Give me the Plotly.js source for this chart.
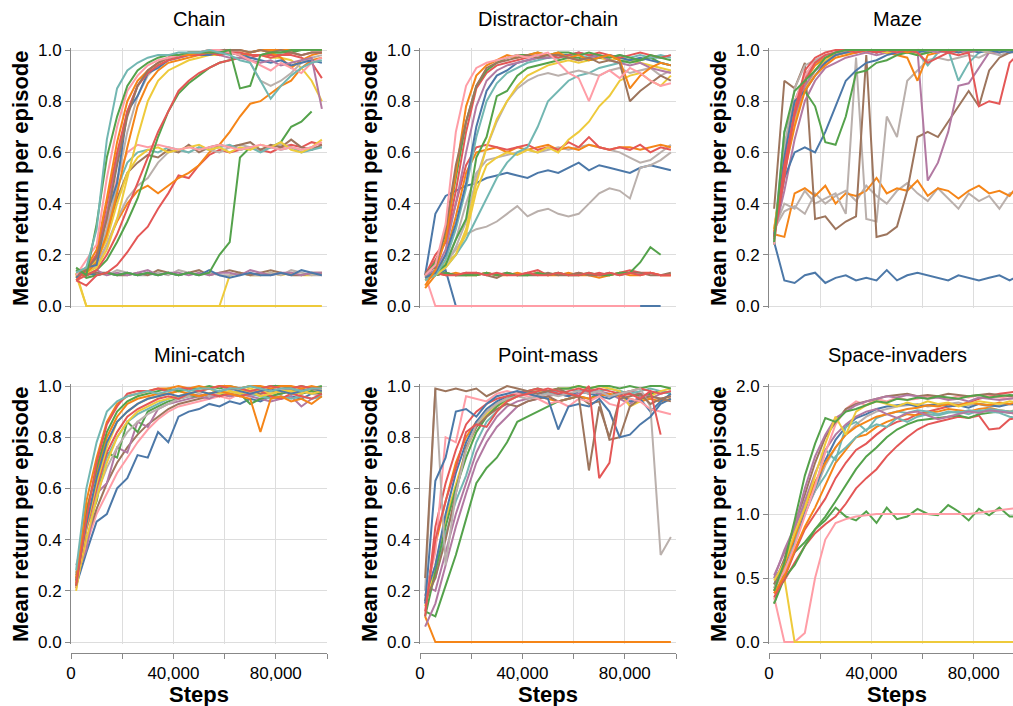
<!DOCTYPE html>
<html><head><meta charset="utf-8">
<script src="https://cdn.plot.ly/plotly-3.0.1.min.js"></script>
<style>html,body{margin:0;padding:0;overflow:hidden;background:#fff}#chart{width:1040px;height:706px}</style>
</head><body><div id="chart"></div>
<script>
// ---------------- data ----------------
const steps = [2000, 6000, 10000, 14000, 18000, 22000, 26000, 30000, 34000, 38000, 42000, 46000, 50000, 54000, 58000, 62000, 66000, 70000, 74000, 78000, 82000, 86000, 90000, 94000, 98000];
const panelTitles = ['Chain', 'Distractor-chain', 'Maze', 'Mini-catch', 'Point-mass', 'Space-invaders'];
const yTitle = 'Mean return per episode';
const xTitle = 'Steps';
const xTickValues = [0, 20000, 40000, 60000, 80000, 100000];
const xTickLabels = ['0', '', '40,000', '', '80,000', ''];
const unitTickValues = [0, 0.2, 0.4, 0.6, 0.8, 1.0];
const unitTickLabels = ['0.0', '0.2', '0.4', '0.6', '0.8', '1.0'];
const invadersTickValues = [0, 0.5, 1.0, 1.5, 2.0];
const invadersTickLabels = ['0.0', '0.5', '1.0', '1.5', '2.0'];

const chainRuns = [
  [0.12,0,0,0,0, 0,0,0,0,0, 0,0,0,0,0, 0,0,0,0,0, 0,0,0,0,0],
  [0.13,0,0,0,0, 0,0,0,0,0, 0,0,0,0,0, 0.12,0.13,0.12,0.12,0.13, 0.12,0.13,0.12,0.12,0.13],
  [0.12,0.13,0.13,0.12,0.14, 0.13,0.12,0.12,0.13,0.12, 0.14,0.13,0.12,0.13,0.12, 0.12,0.13,0.12,0.12,0.13, 0.12,0.14,0.13,0.12,0.12],
  [0.14,0.12,0.13,0.13,0.12, 0.12,0.13,0.12,0.14,0.13, 0.12,0.13,0.14,0.12,0.13, 0.14,0.13,0.12,0.13,0.14, 0.13,0.12,0.12,0.13,0.13],
  [0.13,0.12,0.14,0.12,0.13, 0.12,0.13,0.14,0.12,0.13, 0.13,0.12,0.13,0.12,0.13, 0.13,0.12,0.14,0.13,0.12, 0.13,0.13,0.12,0.13,0.13],
  [0.12,0.13,0.12,0.13,0.12, 0.13,0.12,0.13,0.12,0.13, 0.12,0.13,0.12,0.14,0.12, 0.11,0.12,0.13,0.12,0.12, 0.13,0.12,0.14,0.13,0.12],
  [0.14,0.11,0.12,0.13,0.12, 0.13,0.12,0.13,0.12,0.13, 0.12,0.13,0.12,0.13,0.20, 0.25,0.58,0.62,0.61,0.62, 0.64,0.70,0.72,0.76,null],
  [0.10,0.08,0.12,0.13,0.16, 0.21,0.27,0.31,0.38,0.44, 0.51,0.50,0.55,0.59,0.61, 0.60,0.61,0.62,0.61,0.60, 0.62,0.63,0.62,0.64,0.63],
  [0.12,0.13,0.16,0.24,0.33, 0.40,0.45,0.47,0.44,0.47, 0.50,0.52,0.55,0.60,0.63, 0.68,0.74,0.79,0.80,0.83, 0.86,0.88,0.93,0.96,0.97],
  [0.13,0.13,0.16,0.24,0.34, 0.42,0.47,0.50,0.56,0.60, 0.61,0.60,0.62,0.61,0.60, 0.62,0.63,0.62,0.61,0.62, 0.63,0.62,0.61,0.62,0.62],
  [0.12,0.13,0.17,0.28,0.42, 0.52,0.56,0.59,0.58,0.61, 0.60,0.63,0.60,0.62,0.63, 0.62,0.63,0.64,0.61,0.63, 0.62,0.65,0.62,0.61,0.63],
  [0.12,0.14,0.19,0.30,0.46, 0.56,0.60,0.61,0.60,0.62, 0.61,0.60,0.62,0.61,0.62, 0.63,0.61,0.62,0.60,0.62, 0.61,0.62,0.60,0.61,0.62],
  [0.12,0.14,0.18,0.26,0.40, 0.52,0.58,0.61,0.62,0.60, 0.61,0.62,0.63,0.61,0.62, 0.60,0.62,0.61,0.63,0.62, 0.64,0.61,0.60,0.62,0.65],
  [0.12,0.15,0.20,0.33,0.50, 0.60,0.63,0.62,0.63,0.62, 0.61,0.62,0.61,0.62,0.63, 0.62,0.61,0.62,0.63,0.62, 0.61,0.62,0.61,0.62,0.64],
  [0.13,0.12,0.14,0.18,0.25, 0.33,0.42,0.54,0.66,0.76, 0.83,0.87,0.90,0.93,0.95, 0.96,0.97,0.98,0.98,0.99, 0.99,0.99,1.0,1.0,1.0],
  [0.10,0.12,0.14,0.20,0.28, 0.38,0.48,0.58,0.68,0.76, 0.84,0.88,0.91,0.93,0.95, 0.96,0.97,0.97,0.98,0.98, 0.98,0.98,0.97,0.95,0.89],
  [0.12,0.13,0.15,0.22,0.34, 0.50,0.66,0.80,0.88,0.92, 0.94,0.96,0.97,0.98,0.98, 0.99,0.99,0.98,0.98,0.97, 0.97,0.96,0.93,0.88,0.80],
  [0.13,0.15,0.19,0.30,0.48, 0.68,0.82,0.90,0.94,0.96, 0.98,0.99,0.99,0.99,1.0, 1.0,0.99,0.95,0.88,0.86, 0.88,0.91,0.95,0.97,0.98],
  [0.11,0.13,0.17,0.28,0.44, 0.62,0.78,0.87,0.92,0.95, 0.96,0.97,0.98,0.98,0.99, 0.99,0.98,0.99,1.0,0.99, 0.97,0.93,0.96,0.98,0.99],
  [0.11,0.15,0.16,0.36,0.48, 0.76,0.82,0.91,0.93,0.96, 0.97,0.98,0.98,0.98,0.99, 0.99,0.98,0.97,0.96,0.95, 0.96,0.94,0.95,0.96,0.95],
  [0.12,0.14,0.20,0.36,0.58, 0.76,0.86,0.92,0.95,0.97, 0.98,0.98,0.99,0.99,0.98, 0.97,0.97,0.96,0.95,0.96, 0.94,0.95,0.96,0.97,0.77],
  [0.10,0.14,0.20,0.40,0.60, 0.76,0.86,0.91,0.94,0.96, 0.97,0.98,0.98,0.99,0.98, 0.99,0.99,0.98,0.98,0.97, 0.98,0.99,0.98,0.99,0.99],
  [0.12,0.15,0.22,0.42,0.64, 0.80,0.88,0.92,0.95,0.97, 0.98,0.98,0.99,0.99,1.0, 1.0,1.0,0.99,1.0,1.0, 1.0,1.0,1.0,1.0,1.0],
  [0.12,0.14,0.19,0.34,0.55, 0.74,0.86,0.92,0.95,0.97, 0.98,0.99,0.99,1.0,1.0, 1.0,1.0,0.99,1.0,0.99, 1.0,0.99,0.98,0.99,0.99],
  [0.12,0.18,0.24,0.50,0.70, 0.84,0.90,0.94,0.96,0.97, 0.98,0.99,0.99,1.0,1.0, 0.99,0.98,0.96,0.94,0.92, 0.95,0.93,0.91,0.95,0.97],
  [0.15,0.12,0.32,0.58,0.74, 0.86,0.92,0.95,0.97,0.98, 0.98,0.99,0.99,0.99,0.99, 1.0,0.85,0.86,0.98,0.99, 0.99,1.0,1.0,1.0,1.0],
  [0.13,0.15,0.30,0.65,0.85, 0.92,0.95,0.97,0.98,0.98, 0.99,0.99,0.99,1.0,0.99, 0.98,0.96,0.95,0.88,0.81, 0.86,0.90,0.93,0.95,0.96]
];
const chainRunColors = ['yellow','yellow','gray','brown','purple','blue','green','red','orange','gray','brown','teal','yellow','pink','green','red','yellow','gray','orange','blue','purple','red','orange','brown','pink','green','teal'];

const distractorRuns = [
  [0.13,0.12,0.14,0,0, 0,0,0,0,0, 0,0,0,0,0, 0,0,0,0,0, 0,0,0,0,null],
  [0.12,0,0,0,0, 0,0,0,0,0, 0,0,0,0,0, 0,0,0,0,0, 0,0,null,null,null],
  [0.13,0.12,0.13,0.12,0.13, 0.12,0.13,0.12,0.13,0.12, 0.13,0.14,0.12,0.13,0.12, 0.13,0.12,0.13,0.12,0.13, 0.14,0.13,0.13,0.12,0.12],
  [0.12,0.13,0.12,0.13,0.12, 0.12,0.13,0.12,0.12,0.13, 0.12,0.13,0.12,0.12,0.13, 0.12,0.12,0.11,0.12,0.13, 0.12,0.12,0.13,0.12,0.12],
  [0.12,0.12,0.13,0.12,0.12, 0.13,0.12,0.11,0.13,0.12, 0.12,0.12,0.13,0.12,0.12, 0.13,0.12,0.12,0.13,0.12, 0.13,0.13,0.12,0.12,0.13],
  [0.13,0.12,0.13,0.12,0.12, 0.12,0.13,0.12,0.13,0.12, 0.12,0.13,0.12,0.13,0.12, 0.12,0.13,0.12,0.12,0.13, 0.13,0.17,0.23,0.20,null],
  [0.12,0.13,0.12,0.12,0.13, 0.13,0.12,0.13,0.12,0.12, 0.13,0.12,0.12,0.13,0.12, 0.12,0.13,0.12,0.13,0.12, 0.13,0.12,0.13,0.12,0.12],
  [0.12,0.36,0.43,0.45,0.47, 0.48,0.50,0.51,0.52,0.51, 0.50,0.52,0.53,0.52,0.54, 0.56,0.53,0.55,0.54,0.53, 0.52,0.54,0.55,0.54,0.53],
  [0.12,0.14,0.17,0.22,0.28, 0.30,0.31,0.33,0.36,0.39, 0.35,0.37,0.38,0.36,0.35, 0.36,0.40,0.44,0.46,0.45, 0.42,0.54,0.55,0.57,0.60],
  [0.12,0.13,0.17,0.26,0.40, 0.52,0.57,0.58,0.59,0.60, 0.61,0.60,0.61,0.62,0.61, 0.62,0.63,0.62,0.61,0.60, 0.58,0.56,0.57,0.60,0.63],
  [0.07,0.12,0.20,0.35,0.52, 0.60,0.61,0.62,0.60,0.62, 0.61,0.62,0.63,0.61,0.62, 0.61,0.63,0.62,0.61,0.62, 0.62,0.61,0.62,0.63,0.62],
  [0.12,0.18,0.25,0.40,0.55, 0.62,0.63,0.62,0.61,0.62, 0.63,0.61,0.62,0.61,0.64, 0.62,0.66,0.62,0.61,0.62, 0.61,0.63,0.60,0.62,0.61],
  [0.10,0.13,0.17,0.20,0.28, 0.45,0.55,0.58,0.60,0.59, 0.61,0.60,0.62,0.60,0.65, 0.68,0.72,0.78,0.82,0.88, 0.90,0.91,0.88,0.86,0.90],
  [0.11,0.12,0.15,0.20,0.26, 0.34,0.42,0.50,0.56,0.60, 0.62,0.70,0.80,0.84,0.88, 0.90,0.91,0.93,0.94,0.95, 0.96,0.96,0.97,0.97,0.98],
  [0.12,0.13,0.16,0.23,0.33, 0.50,0.62,0.72,0.80,0.85, 0.88,0.90,0.91,0.90,0.91, 0.92,0.91,0.90,0.92,0.93, 0.91,0.92,0.93,0.90,0.92],
  [0.11,0.12,0.15,0.20,0.30, 0.48,0.62,0.73,0.80,0.86, 0.90,0.92,0.94,0.95,0.96, 0.95,0.96,0.97,0.96,0.97, 0.96,0.95,0.94,0.93,0.92],
  [0.12,0.13,0.16,0.26,0.34, 0.58,0.66,0.82,0.84,0.90, 0.93,0.94,0.95,0.96,0.97, 0.97,0.96,0.97,0.98,0.96, 0.95,0.96,0.97,0.95,0.94],
  [0.10,0.12,0.18,0.30,0.46, 0.66,0.80,0.87,0.91,0.93, 0.95,0.96,0.97,0.97,0.98, 0.98,0.97,0.98,0.97,0.98, 0.97,0.98,0.97,0.98,0.97],
  [0.11,0.13,0.20,0.32,0.48, 0.70,0.84,0.90,0.92,0.95, 0.96,0.97,0.97,0.98,0.98, 0.99,0.98,0.97,0.98,0.97, 0.96,0.97,0.96,0.95,0.94],
  [0.12,0.14,0.22,0.40,0.60, 0.78,0.88,0.92,0.94,0.95, 0.96,0.97,0.97,0.98,0.97, 0.96,0.97,0.98,0.96,0.95, 0.94,0.95,0.93,0.92,0.91],
  [0.12,0.20,0.25,0.45,0.68, 0.85,0.91,0.94,0.95,0.96, 0.97,0.98,0.98,0.97,0.98, 0.99,0.98,0.99,0.98,0.97, 0.98,0.99,0.98,0.97,0.98],
  [0.12,0.17,0.28,0.50,0.72, 0.86,0.92,0.95,0.97,0.98, 0.98,0.99,0.98,0.99,0.99, 0.98,0.99,0.98,0.97,0.98, 0.97,0.96,0.98,0.97,0.96],
  [0.08,0.14,0.26,0.52,0.78, 0.90,0.94,0.96,0.98,0.97, 0.98,0.99,0.98,0.99,0.97, 0.98,0.96,0.97,0.98,0.96, 0.85,0.90,0.93,0.95,0.94],
  [0.13,0.15,0.30,0.55,0.72, 0.86,0.93,0.95,0.96,0.97, 0.98,0.97,0.98,0.98,0.97, 0.96,0.97,0.95,0.96,0.95, 0.80,0.84,0.87,0.90,0.88],
  [0.12,0.16,0.32,0.68,0.86, 0.93,0.95,0.96,0.97,0.98, 0.97,0.98,0.99,0.95,0.91, 0.89,0.80,0.90,0.92,0.89, 0.93,0.91,0.88,0.86,0.87]
];
const distractorRunColors = ['blue','pink','red','orange','brown','green','red','blue','gray','gray','orange','red','yellow','teal','gray','yellow','green','teal','blue','purple','red','green','orange','brown','pink'];

const mazeRuns = [
  [0.25,0.10,0.09,0.12,0.13, 0.09,0.11,0.12,0.10,0.11, 0.10,0.14,0.10,0.12,0.13, 0.12,0.11,0.10,0.12,0.11, 0.10,0.11,0.12,0.10,0.12],
  [0.30,0.37,0.39,0.36,0.44, 0.40,0.43,0.45,0.41,0.47, 0.43,0.40,0.45,0.48,0.44, 0.41,0.46,0.42,0.38,0.44, 0.41,0.43,0.38,0.44,0.45],
  [0.28,0.27,0.44,0.46,0.43, 0.47,0.40,0.44,0.43,0.45, 0.50,0.44,0.46,0.45,0.49, 0.43,0.46,0.45,0.42,0.45, 0.47,0.44,0.45,0.43,0.48],
  [0.30,0.40,0.38,0.45,0.40, 0.42,0.44,0.36,0.97,0.34, 0.33,0.74,0.66,0.88,0.92, 0.96,0.97,0.96,0.97,0.98, 0.97,0.99,0.98,0.99,0.99],
  [0.38,0.88,0.85,0.95,0.34, 0.35,0.30,0.33,0.35,0.98, 0.27,0.28,0.31,0.45,0.66, 0.68,0.66,0.72,0.78,0.84, 0.78,0.92,0.97,0.99,1.0],
  [0.28,0.45,0.65,0.80,0.88, 0.93,0.95,0.97,0.98,0.99, 0.98,0.99,1.0,0.99,1.0, 0.49,0.56,0.68,0.86,0.87, 0.93,0.99,0.99,1.0,1.0],
  [0.27,0.68,0.80,0.90,0.95, 0.97,0.98,0.99,0.99,1.0, 0.99,1.0,0.98,1.0,0.99, 0.94,0.99,1.0,0.88,0.95, 0.99,1.0,0.99,1.0,0.99],
  [0.30,0.58,0.78,0.88,0.94, 0.97,0.98,0.99,1.0,0.99, 1.0,0.99,0.98,0.97,0.88, 0.98,0.99,1.0,0.99,1.0, 1.0,0.99,1.0,1.0,1.0],
  [0.30,0.55,0.72,0.85,0.92, 0.96,0.98,0.99,0.99,1.0, 1.0,0.99,1.0,1.0,0.98, 0.99,1.0,1.0,1.0,0.99, 1.0,1.0,1.0,1.0,1.0],
  [0.28,0.50,0.60,0.62,0.60, 0.68,0.78,0.88,0.92,0.95, 0.96,0.98,0.99,0.99,1.0, 0.99,1.0,1.0,0.99,1.0, 0.99,1.0,1.0,0.99,1.0],
  [0.24,0.62,0.80,0.84,0.78, 0.64,0.63,0.74,0.91,0.92, 0.95,0.96,0.98,0.99,0.98, 0.99,1.0,1.0,1.0,1.0, 1.0,1.0,1.0,1.0,1.0],
  [0.24,0.58,0.80,0.90,0.96, 0.98,0.99,1.0,1.0,0.99, 1.0,1.0,1.0,1.0,1.0, 1.0,0.99,1.0,1.0,1.0, 1.0,1.0,0.99,1.0,1.0],
  [0.28,0.55,0.74,0.86,0.92, 0.95,0.98,0.99,1.0,0.99, 1.0,1.0,0.99,1.0,1.0, 1.0,0.99,1.0,1.0,0.99, 1.0,1.0,1.0,1.0,1.0],
  [0.26,0.62,0.85,0.94,0.96, 0.98,0.99,0.99,1.0,1.0, 0.99,1.0,1.0,1.0,0.99, 1.0,1.0,1.0,1.0,1.0, 1.0,0.99,1.0,1.0,1.0],
  [0.27,0.58,0.80,0.84,0.90, 0.95,0.98,0.99,1.0,1.0, 0.99,1.0,1.0,1.0,0.99, 1.0,1.0,0.99,1.0,1.0, 1.0,1.0,0.99,1.0,1.0],
  [0.29,0.52,0.70,0.84,0.90, 0.94,0.97,0.98,0.99,1.0, 1.0,1.0,1.0,0.99,1.0, 1.0,1.0,1.0,1.0,1.0, 1.0,1.0,1.0,1.0,1.0],
  [0.26,0.55,0.75,0.88,0.95, 0.98,0.99,1.0,0.99,1.0, 0.99,1.0,0.99,1.0,0.99, 0.95,0.97,0.99,0.98,0.99, 0.78,0.80,0.79,0.95,0.99],
  [0.27,0.50,0.76,0.92,0.97, 0.99,1.0,1.0,1.0,1.0, 0.99,1.0,1.0,1.0,1.0, 1.0,1.0,0.99,1.0,1.0, 1.0,1.0,1.0,1.0,1.0],
  [0.25,0.68,0.84,0.88,0.92, 0.97,0.99,1.0,1.0,1.0, 1.0,1.0,1.0,1.0,1.0, 1.0,1.0,1.0,1.0,1.0, 1.0,1.0,1.0,1.0,1.0]
];
const mazeRunColors = ['blue','gray','orange','gray','brown','purple','teal','orange','yellow','blue','green','pink','purple','gray','blue','orange','red','red','green'];

const miniCatchRuns = [
  [0.22,0.35,0.47,0.50,0.60, 0.64,0.73,0.72,0.82,0.78, 0.88,0.90,0.91,0.93,0.92, 0.94,0.93,0.95,0.94,0.96, 0.95,0.96,0.95,0.97,0.97],
  [0.25,0.38,0.50,0.58,0.66, 0.72,0.78,0.83,0.87,0.90, 0.92,0.93,0.94,0.95,0.96, 0.95,0.97,0.96,0.97,0.96, 0.97,0.98,0.97,0.98,0.98],
  [0.27,0.40,0.52,0.62,0.70, 0.76,0.81,0.85,0.88,0.91, 0.93,0.94,0.95,0.96,0.97, 0.96,0.97,0.98,0.97,0.98, 0.97,0.98,0.99,0.98,0.97],
  [0.26,0.36,0.58,0.62,0.76, 0.74,0.86,0.84,0.91,0.93, 0.94,0.95,0.96,0.95,0.97, 0.96,0.97,0.96,0.95,0.94, 0.95,0.96,0.92,0.95,0.96],
  [0.24,0.45,0.55,0.74,0.72, 0.86,0.82,0.90,0.92,0.94, 0.95,0.96,0.96,0.97,0.96, 0.98,0.97,0.93,0.95,0.96, 0.97,0.98,0.97,0.98,0.97],
  [0.30,0.44,0.58,0.68,0.76, 0.82,0.86,0.89,0.91,0.93, 0.95,0.96,0.97,0.96,0.97, 0.98,0.97,0.98,0.98,0.97, 0.98,0.99,0.98,0.97,0.96],
  [0.26,0.45,0.60,0.72,0.80, 0.86,0.89,0.91,0.93,0.95, 0.96,0.97,0.96,0.97,0.98, 0.97,0.96,0.97,0.96,0.95, 0.96,0.95,0.96,0.95,0.96],
  [0.22,0.40,0.56,0.70,0.80, 0.86,0.90,0.92,0.94,0.95, 0.96,0.97,0.98,0.97,0.98, 0.97,0.98,0.99,0.98,0.97, 0.98,0.98,0.97,0.99,0.98],
  [0.21,0.44,0.60,0.74,0.82, 0.88,0.91,0.93,0.95,0.96, 0.95,0.97,0.96,0.97,0.96, 0.97,0.96,0.97,0.98,0.96, 0.95,0.97,0.96,0.95,0.97],
  [0.20,0.45,0.62,0.76,0.86, 0.90,0.93,0.95,0.96,0.97, 0.98,0.97,0.98,0.99,0.97, 0.98,0.97,0.98,0.96,0.97, 0.98,0.97,0.98,0.97,0.98],
  [0.25,0.52,0.66,0.80,0.88, 0.93,0.95,0.96,0.97,0.97, 0.98,0.97,0.96,0.97,0.98, 0.97,0.96,0.95,0.82,0.95, 0.96,0.94,0.95,0.93,0.96],
  [0.24,0.46,0.64,0.78,0.86, 0.90,0.93,0.95,0.96,0.97, 0.96,0.97,0.98,0.97,0.98, 0.99,0.98,0.97,0.98,0.99, 0.98,0.97,0.98,0.99,0.98],
  [0.22,0.50,0.68,0.82,0.90, 0.94,0.96,0.97,0.98,0.99, 0.98,0.99,0.99,1.0,0.99, 1.0,0.99,1.0,0.99,1.0, 1.0,0.99,1.0,0.99,1.0],
  [0.23,0.55,0.72,0.86,0.93, 0.96,0.97,0.98,0.99,0.99, 1.0,0.99,1.0,0.99,1.0, 1.0,0.99,1.0,1.0,0.99, 1.0,1.0,0.99,1.0,0.99],
  [0.22,0.48,0.70,0.85,0.92, 0.97,0.98,0.98,0.99,0.98, 0.99,0.99,0.98,0.99,1.0, 0.99,0.99,0.98,0.99,1.0, 0.99,0.99,1.0,0.99,0.99],
  [0.28,0.60,0.78,0.90,0.94, 0.96,0.97,0.98,0.97,0.98, 0.99,0.98,0.99,0.99,0.98, 0.99,0.99,1.0,0.99,0.98, 0.99,0.99,0.98,0.99,0.99]
];
const miniCatchRunColors = ['blue','pink','brown','purple','green','gray','teal','yellow','red','yellow','orange','blue','green','orange','red','teal'];

const pointMassRuns = [
  [0.10,0,0,0,0, 0,0,0,0,0, 0,0,0,0,0, 0,0,0,0,0, 0,0,0,0,0],
  [0.12,0.10,0.22,0.34,0.48, 0.62,0.68,0.72,0.78,0.86, 0.88,0.90,0.92,0.94,0.95, 0.96,0.95,0.97,0.96,0.98, 0.97,0.96,0.97,0.98,0.97],
  [0.06,0.15,0.30,0.45,0.58, 0.70,0.78,0.84,0.88,0.92, 0.94,0.95,0.96,0.97,0.96, 0.97,0.98,0.97,0.96,0.97, 0.98,0.97,0.96,0.95,0.96],
  [0.22,0.20,0.35,0.50,0.62, 0.74,0.82,0.88,0.92,0.94, 0.95,0.96,0.97,0.98,0.97, 0.98,0.99,0.98,0.97,0.95, 0.93,0.96,0.95,0.97,0.98],
  [0.20,0.25,0.42,0.55,0.65, 0.78,0.86,0.90,0.94,0.96, 0.97,0.98,0.97,0.98,0.99, 0.98,0.97,0.98,0.99,0.98, 0.97,0.98,0.99,0.98,0.97],
  [0.14,0.30,0.48,0.62,0.75, 0.84,0.89,0.92,0.94,0.96, 0.97,0.98,0.98,0.99,0.99, 1.0,0.99,1.0,0.99,0.98, 0.92,0.94,0.96,0.98,0.99],
  [0.16,0.38,0.55,0.70,0.80, 0.86,0.90,0.93,0.95,0.96, 0.97,0.96,0.95,0.94,0.95, 0.96,0.95,0.96,0.97,0.96, 0.95,0.94,0.95,0.94,0.95],
  [0.10,0.28,0.45,0.60,0.72, 0.82,0.88,0.92,0.95,0.97, 0.98,0.99,0.98,0.99,0.99, 1.0,0.99,1.0,1.0,0.99, 1.0,0.99,1.0,1.0,0.99],
  [0.18,0.30,0.50,0.66,0.78, 0.86,0.91,0.94,0.96,0.97, 0.98,0.97,0.98,0.97,0.96, 0.98,0.97,0.96,0.95,0.97, 0.94,0.95,0.90,0.94,0.97],
  [0.10,0.45,0.62,0.75,0.85, 0.90,0.93,0.95,0.96,0.97, 0.98,0.99,0.98,0.97,0.98, 0.99,0.98,0.99,0.98,0.97, 0.98,0.99,0.98,0.97,0.98],
  [0.16,0.25,0.40,0.58,0.76, 0.84,0.88,0.91,0.93,0.92, 0.94,0.95,0.96,0.94,0.95, 0.96,0.93,0.94,0.79,0.80, 0.92,0.95,0.96,0.95,0.96],
  [0.18,0.35,0.80,0.78,0.96, 0.95,0.94,0.97,0.98,0.97, 0.96,0.95,0.93,0.94,0.92, 0.95,0.94,0.96,0.93,0.92, 0.95,0.94,0.91,0.90,0.89],
  [0.20,0.99,0.30,0.58,0.75, 0.85,0.90,0.93,0.95,0.96, 0.95,0.96,0.97,0.96,0.97, 0.98,0.97,0.98,0.96,0.97, 0.98,0.99,0.92,0.34,0.41],
  [0.15,0.63,0.72,0.90,0.91, 0.88,0.93,0.96,0.97,0.98, 0.97,0.96,0.95,0.83,0.92, 0.93,0.92,0.95,0.90,0.80, 0.81,0.85,0.88,0.93,0.95],
  [0.25,0.99,0.98,0.99,0.98, 0.99,0.96,0.98,1.0,0.99, 0.98,0.97,0.98,0.99,0.97, 0.96,0.67,0.92,0.80,0.95, 0.96,0.97,0.93,0.95,0.94],
  [0.12,0.40,0.55,0.68,0.82, 0.85,0.84,0.90,0.94,0.96, 0.97,0.98,0.99,0.98,0.97, 0.96,1.0,0.64,0.70,0.96, 0.97,0.95,0.98,0.81,null]
];
const pointMassRunColors = ['orange','green','purple','purple','teal','yellow','orange','green','blue','red','brown','pink','gray','blue','brown','red'];

const invadersRuns = [
  [0.30,0.55,0.70,0.78,0.88, 0.95,1.05,0.98,0.95,1.02, 0.93,1.05,0.96,0.98,1.04, 1.00,0.99,1.07,1.02,0.95, 1.04,0.99,1.05,0.98,0.98],
  [0.35,0,0,0.07,0.50, 0.80,0.93,0.96,0.98,0.99, 1.0,1.0,1.0,1.0,1.0, 1.0,1.0,1.0,1.0,1.0, 1.01,1.02,1.03,1.04,1.05],
  [0.45,0.50,0,0,0, 0,0,0,0,0, 0,0,0,0,0, 0,0,0,0,0, 0,0,0,0,0],
  [0.38,0.48,0.62,0.75,0.85, 0.92,0.98,1.08,1.20,1.28, 1.35,1.45,1.53,1.60,1.66, 1.70,1.72,1.74,1.76,1.75, 1.77,1.66,1.67,1.74,1.75],
  [0.30,0.50,0.60,0.75,0.88, 0.98,1.10,1.22,1.35,1.45, 1.52,1.60,1.66,1.70,1.73, 1.74,1.75,1.76,1.77,1.75, 1.78,1.79,1.80,1.79,1.78],
  [0.35,0.50,0.70,0.88,1.00, 1.12,1.28,1.40,1.50,1.55, 1.62,1.68,1.72,1.74,1.78, 1.80,1.82,1.84,1.85,1.87, 1.90,1.92,1.94,1.95,1.96],
  [0.38,0.52,0.72,0.90,1.05, 1.22,1.40,1.50,1.60,1.62, 1.68,1.72,1.75,1.78,1.77, 1.79,1.80,1.82,1.81,1.80, 1.82,1.83,1.81,1.80,1.82],
  [0.45,0.60,0.82,1.02,1.18, 1.30,1.45,1.52,1.60,1.66, 1.70,1.68,1.75,1.72,1.76, 1.78,1.77,1.79,1.80,1.78, 1.81,1.80,1.79,1.76,1.75],
  [0.40,0.58,0.78,1.00,1.18, 1.38,1.52,1.62,1.70,1.76, 1.80,1.82,1.84,1.85,1.86, 1.84,1.85,1.86,1.87,1.85, 1.86,1.84,1.85,1.86,1.85],
  [0.50,0.60,0.78,1.00,1.20, 1.42,1.58,1.68,1.75,1.78, 1.82,1.84,1.85,1.86,1.84, 1.85,1.86,1.84,1.85,1.83, 1.86,1.85,1.84,1.86,1.85],
  [0.42,0.62,0.76,1.10,1.20, 1.50,1.42,1.68,1.72,1.65, 1.75,1.78,1.80,1.79,1.81, 1.80,1.78,1.80,1.79,1.81, 1.80,1.82,1.81,1.80,1.82],
  [0.40,0.60,0.82,1.05,1.25, 1.40,1.52,1.62,1.68,1.72, 1.76,1.78,1.80,1.82,1.83, 1.85,1.84,1.86,1.85,1.87, 1.86,1.85,1.87,1.86,1.88],
  [0.52,0.70,0.88,1.10,1.32, 1.50,1.62,1.70,1.76,1.80, 1.82,1.78,1.75,1.79,1.80, 1.77,1.74,1.76,1.78,1.80, 1.79,1.81,1.80,1.79,1.78],
  [0.42,0.55,0.75,0.98,1.22, 1.48,1.70,1.82,1.88,1.85, 1.90,1.88,1.91,1.89,1.90, 1.92,1.91,1.90,1.92,1.91, 1.93,1.92,1.91,1.90,1.92],
  [0.45,0.65,0.92,1.15,1.40, 1.60,1.72,1.82,1.86,1.88, 1.90,1.92,1.93,1.94,1.92, 1.93,1.92,1.94,1.93,1.92, 1.93,1.94,1.93,1.92,1.93],
  [0.50,0.72,0.90,1.20,1.45, 1.62,1.75,1.80,1.85,1.88, 1.90,1.92,1.91,1.93,1.92, 1.90,1.91,1.89,1.90,1.88, 1.91,1.90,1.89,1.90,1.91],
  [0.48,0.62,0.85,1.05,1.30, 1.55,1.76,1.62,1.80,1.85, 1.88,1.86,1.84,1.87,1.85, 1.88,1.86,1.87,1.84,1.86, 1.88,1.87,1.86,1.88,1.87],
  [0.40,0.62,0.95,1.30,1.55, 1.75,1.72,1.80,1.82,1.85, 1.88,1.87,1.90,1.89,1.91, 1.90,1.92,1.91,1.90,1.92, 1.93,1.91,1.92,1.93,1.92]
];
const invadersRunColors = ['green','pink','yellow','red','green','red','orange','teal','gray','blue','teal','orange','purple','pink','brown','purple','yellow','green'];

// ---------------- styling / layout ----------------
const palette = {blue:'#4c78a8', orange:'#f58518', red:'#e45756', teal:'#72b7b2', green:'#54a24b', yellow:'#eeca3b', purple:'#b279a2', pink:'#ff9da6', brown:'#9d755d', gray:'#bab0ac'};
const FONT = 'Liberation Sans, Arial, Helvetica, sans-serif';
const W = 1040, H = 706;
const colPx = [[71, 327], [420, 676], [769, 1025]];
const rowPx = [[50, 306], [386, 642]];
const xAxisLinePx = 653;

const panels = [
  {runs: chainRuns, colors: chainRunColors, max: 1, tv: unitTickValues, tt: unitTickLabels},
  {runs: distractorRuns, colors: distractorRunColors, max: 1, tv: unitTickValues, tt: unitTickLabels},
  {runs: mazeRuns, colors: mazeRunColors, max: 1, tv: unitTickValues, tt: unitTickLabels},
  {runs: miniCatchRuns, colors: miniCatchRunColors, max: 1, tv: unitTickValues, tt: unitTickLabels},
  {runs: pointMassRuns, colors: pointMassRunColors, max: 1, tv: unitTickValues, tt: unitTickLabels},
  {runs: invadersRuns, colors: invadersRunColors, max: 2, tv: invadersTickValues, tt: invadersTickLabels}
];

const traces = [];
const layout = {
  width: W, height: H,
  margin: {l: 0, r: 0, t: 0, b: 0, pad: 0},
  paper_bgcolor: '#fff', plot_bgcolor: '#fff',
  showlegend: false,
  font: {family: FONT, color: '#000'},
  annotations: []
};

panels.forEach((p, i) => {
  const row = Math.floor(i / 3), col = i % 3;
  const sfx = i === 0 ? '' : String(i + 1);
  p.runs.forEach((vals, k) => {
    traces.push({
      type: 'scatter', mode: 'lines',
      x: steps, y: vals,
      xaxis: 'x' + sfx, yaxis: 'y' + sfx,
      line: {color: palette[p.colors[k]], width: 2},
      hoverinfo: 'skip', connectgaps: false
    });
  });
  const padV = 2 / 256 * p.max;
  const xa = {
    domain: [colPx[col][0] / W, colPx[col][1] / W],
    range: [0, 100000],
    tickvals: xTickValues, ticktext: xTickLabels,
    showgrid: true, gridcolor: '#ddd', gridwidth: 1,
    zeroline: false, fixedrange: true,
    tickfont: {family: FONT, size: 17, color: '#000'}
  };
  if (row === 1) {
    Object.assign(xa, {anchor: 'free', position: 1 - xAxisLinePx / H, showline: true, linecolor: '#888', linewidth: 1,
      ticks: 'outside', ticklen: 5, tickcolor: '#888', tickwidth: 1, showticklabels: true});
  } else {
    Object.assign(xa, {anchor: 'y' + sfx, showline: false, ticks: '', showticklabels: false});
  }
  layout['xaxis' + sfx] = xa;
  layout['yaxis' + sfx] = {
    domain: [1 - (rowPx[row][1] + 2) / H, 1 - (rowPx[row][0] - 2) / H],
    range: [-padV, p.max + padV],
    anchor: 'x' + sfx,
    tickvals: p.tv, ticktext: p.tt,
    showline: true, linecolor: '#888', linewidth: 1,
    ticks: 'outside', ticklen: 5, tickcolor: '#888', tickwidth: 1,
    showgrid: true, gridcolor: '#ddd', gridwidth: 1,
    zeroline: false, fixedrange: true,
    tickfont: {family: FONT, size: 17, color: '#000'}
  };
  const cx = (colPx[col][0] + colPx[col][1]) / 2;
  layout.annotations.push({text: panelTitles[i], xref: 'paper', yref: 'paper', x: cx / W, y: 1 - (row === 0 ? 19 : 355) / H,
    xanchor: 'center', yanchor: 'middle', showarrow: false, font: {family: FONT, size: 20, color: '#000'}});
  layout.annotations.push({text: '<b>' + yTitle + '</b>', xref: 'paper', yref: 'paper', x: (colPx[col][0] - 51) / W,
    y: 1 - (rowPx[row][0] + rowPx[row][1]) / 2 / H, textangle: -90, xanchor: 'center', yanchor: 'middle', showarrow: false,
    font: {family: FONT, size: 22, color: '#000'}});
  if (row === 1) {
    layout.annotations.push({text: '<b>' + xTitle + '</b>', xref: 'paper', yref: 'paper', x: cx / W, y: 1 - 694 / H,
      xanchor: 'center', yanchor: 'middle', showarrow: false, font: {family: FONT, size: 22, color: '#000'}});
  }
});

Plotly.newPlot('chart', traces, layout, {displayModeBar: false, staticPlot: true});
</script></body></html>
